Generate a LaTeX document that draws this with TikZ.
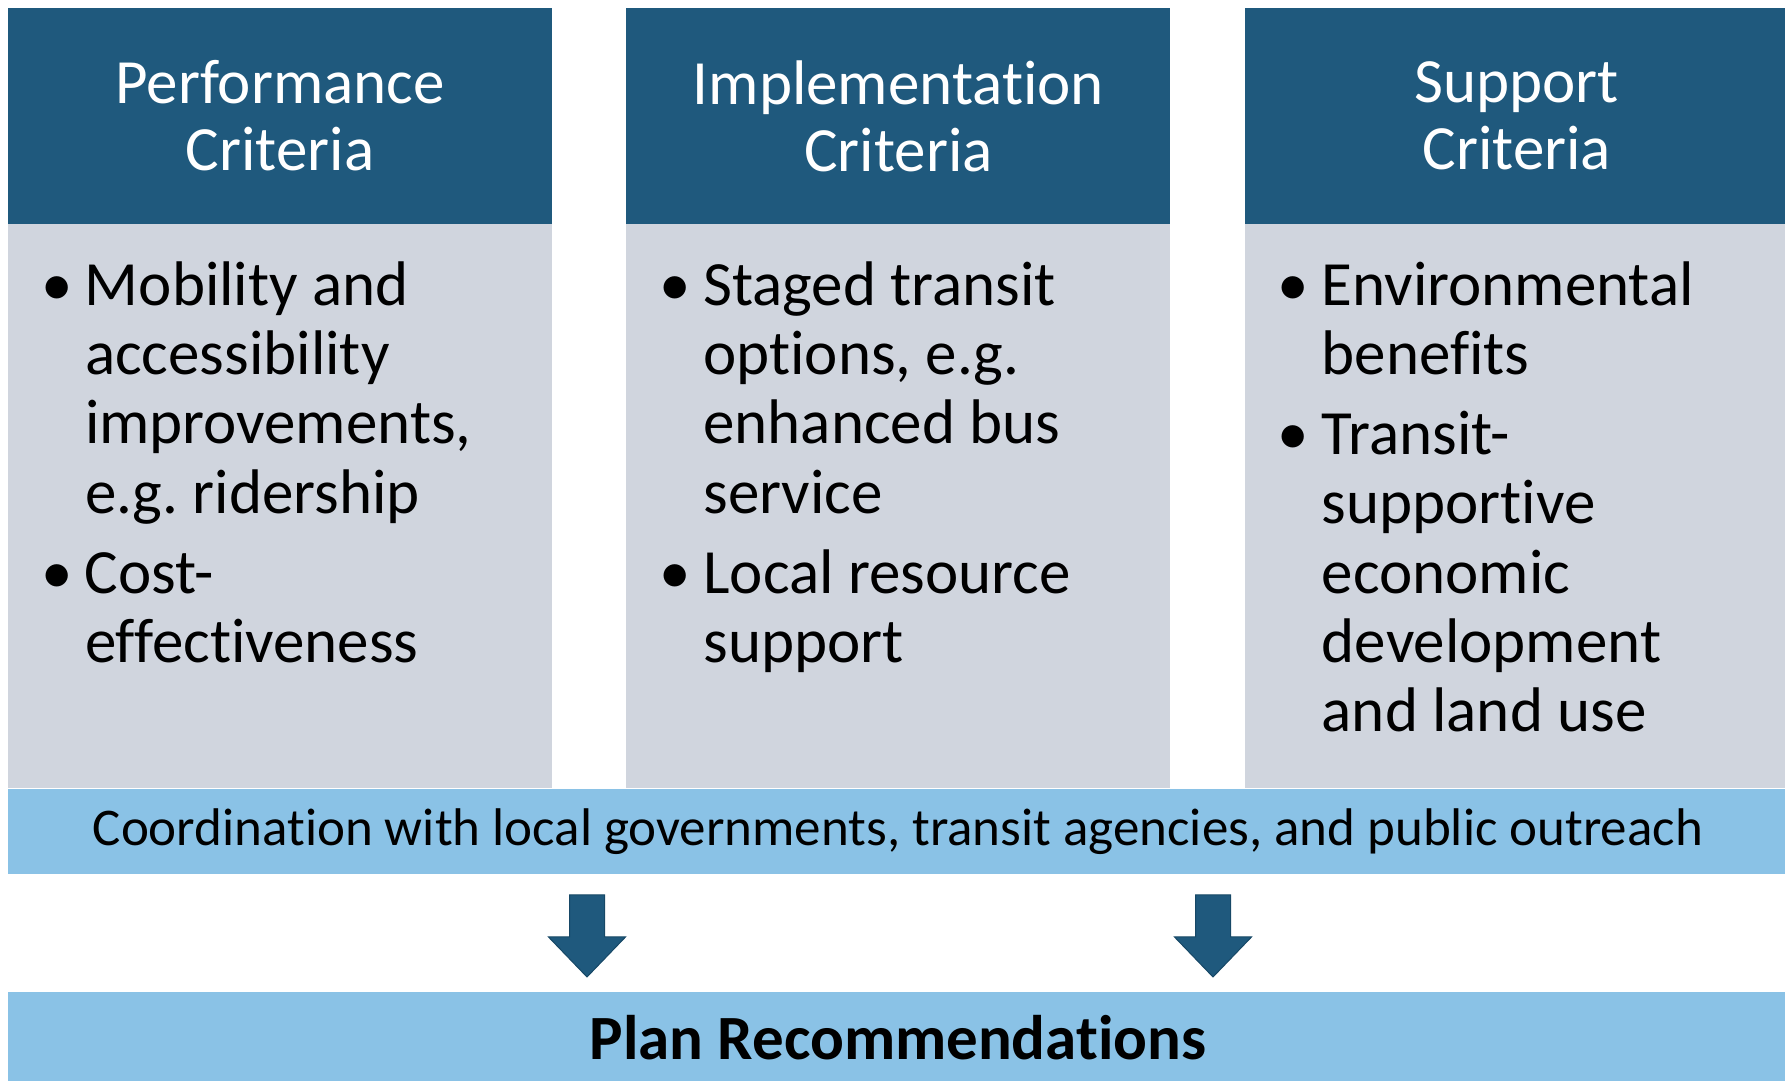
\documentclass[tikz,border=0pt]{standalone}
\usepackage{fontspec}
\setmainfont{Carlito}[Ligatures=NoCommon]
\frenchspacing
\usetikzlibrary{positioning}
\definecolor{hdblue}{RGB}{31,89,125}
\definecolor{bodygray}{RGB}{208,213,222}
\definecolor{bandblue}{RGB}{138,194,230}
\definecolor{arrline}{RGB}{23,72,102}
\tikzstyle{head} = [fill=hdblue, text=white, minimum width=544pt,
    minimum height=216pt, inner sep=0pt, align=center,
    font=\fontsize{63}{67}\selectfont]
\tikzstyle{body} = [fill=bodygray, minimum width=544pt,
    minimum height=564pt, inner sep=0pt]
\tikzstyle{items} = [anchor=base west, inner sep=0pt,
    font=\fontsize{63}{69.4}\selectfont]
\tikzstyle{band} = [fill=bandblue, minimum width=1780pt, inner sep=0pt]
\tikzstyle{blockarrow} = [fill=hdblue, draw=arrline, line width=1pt]
\def\colgap{74pt}
\newcommand{\bulletlist}[1]{\begin{tabular}[t]{@{}p{44pt}@{}l@{}}#1\end{tabular}}

\begin{document}
\begin{tikzpicture}[x=1pt,y=1pt]
    \useasboundingbox (0,0) rectangle (1785,1081);

    \node (perfhead) [head] at (280,965) {Performance\\Criteria};
    \node (implhead) [head, right=\colgap of perfhead] {Implementation\\Criteria};
    \node (supphead) [head, right=\colgap of implhead] {Support\\Criteria};

    \node (perfbody) [body, below=0pt of perfhead] {};
    \node (implbody) [body, below=0pt of implhead] {};
    \node (suppbody) [body, below=0pt of supphead] {};

    % bullet lists, first baseline 81pt under the top of the body
    \path (perfbody.north west)+(33,-81) node (perflist) [items]
        {\bulletlist{\textbullet & Mobility and\\ & accessibility\\
        & improvements,\\ & e.g. ridership\\[10.3pt]
        \textbullet & Cost-\\ & effectiveness}};
    \path (implbody.north west)+(33,-81) node (impllist) [items]
        {\bulletlist{\textbullet & Staged transit\\ & options, e.g.\\
        & enhanced bus\\ & service\\[10.3pt]
        \textbullet & Local resource\\ & support}};
    \path (suppbody.north west)+(33,-81) node (supplist) [items]
        {\bulletlist{\textbullet & Environmental\\ & benefits\\[10.3pt]
        \textbullet & Transit-\\ & supportive\\ & economic\\
        & development\\ & and land use}};

    \node (coord) [band, minimum height=85pt, anchor=north west,
        font=\fontsize{53}{60}\selectfont] at (perfbody.south west)
        {Coordination with local governments, transit agencies, and public outreach};
    \node (plan) [band, minimum height=90pt, below=118pt of coord,
        font=\fontsize{63}{67}\selectfont\bfseries] {Plan Recommendations};

    % block arrows between the two bands
    \foreach \ax/\nm in {587/arrL, 1213/arrR} {
        \coordinate (\nm) at ([yshift=-21pt]coord.south -| \ax,0);
        \draw[blockarrow] (\nm) ++(-17.5,0) -- ++(35,0) -- ++(0,-42)
            -- ++(21,0) -- ++(-38.5,-40) -- ++(-38.5,40) -- ++(21,0) -- cycle;
    }
\end{tikzpicture}
\end{document}
